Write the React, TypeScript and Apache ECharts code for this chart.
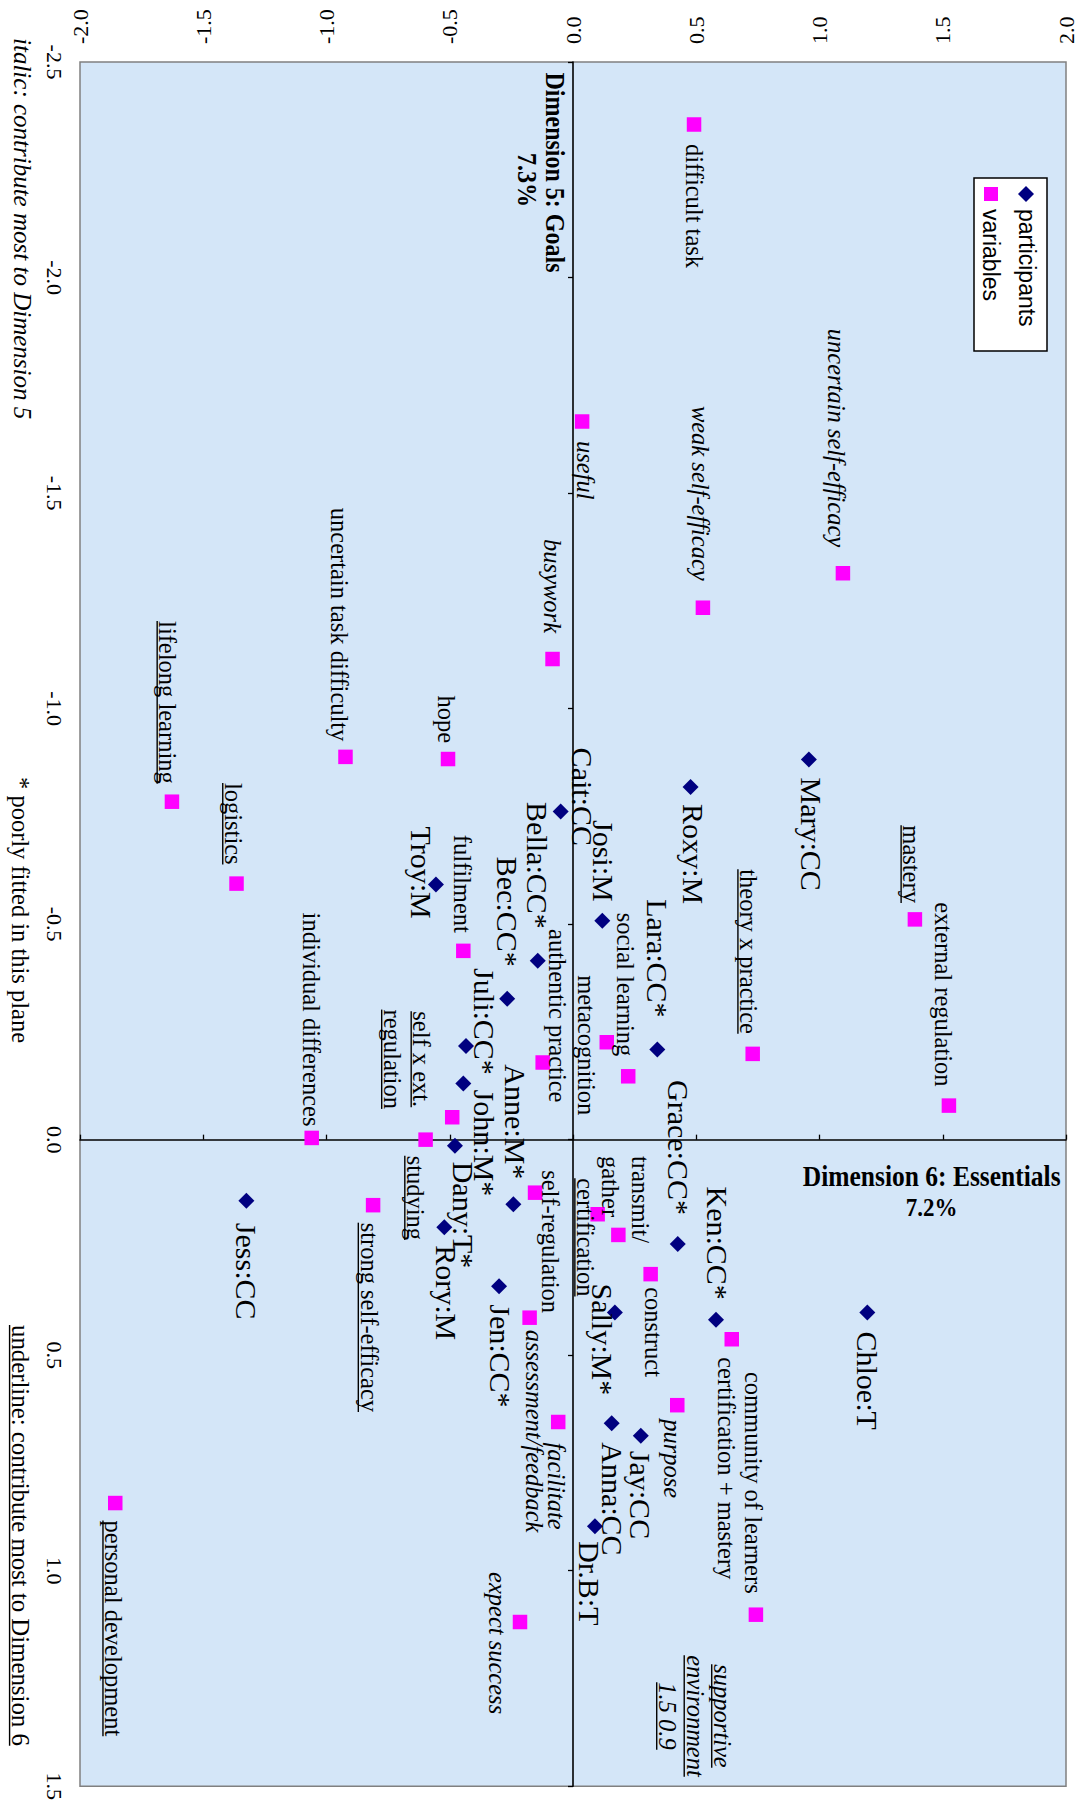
import React, { useEffect, useRef } from 'react';
import * as echarts from 'echarts';

// ---------- data ----------
const dim6Range = [-2, 2];
const dim5Range = [-2.5, 1.5];
const tickStep = 0.5;

const participantNames = ['Mary:CC', 'Roxy:M', 'Cait:CC', 'Josi:M', 'Troy:M', 'Bella:CC*', 'Bec:CC*', 'Juli:CC*', 'John:M*', 'Lara:CC*', 'Dany:T*', 'Anne:M*', 'Rory:M', 'Jen:CC*', 'Jess:CC', 'Grace:CC*', 'Ken:CC*', 'Chloe:T', 'Sally:M*', 'Anna:CC', 'Jay:CC', 'Dr.B:T'];
const participantDim6 = [0.957, 0.477, -0.050, 0.119, -0.556, -0.143, -0.267, -0.434, -0.445, 0.342, -0.479, -0.242, -0.522, -0.300, -1.325, 0.425, 0.580, 1.194, 0.170, 0.157, 0.275, 0.089];
const participantDim5 = [-0.882, -0.818, -0.761, -0.508, -0.592, -0.415, -0.327, -0.217, -0.130, -0.209, 0.014, 0.150, 0.203, 0.340, 0.142, 0.242, 0.418, 0.401, 0.401, 0.658, 0.687, 0.897];

const variableNames = ['difficult task', 'useful', 'uncertain self-efficacy', 'weak self-efficacy', 'busywork', 'uncertain task difficulty', 'hope', 'lifelong learning', 'logistics', 'mastery', 'fulfilment', 'theory x practice', 'social learning', 'metacognition', 'authentic practice', 'external regulation', 'self x ext.\nregulation', 'studying', 'individual differences', 'certification', 'transmit/\ngather', 'self-regulation', 'construct', 'strong self-efficacy', 'certification + mastery', 'community of learners', 'purpose', 'assessment/feedback', 'facilitate', 'expect success', 'personal development'];
const variableDim6 = [0.491, 0.037, 1.095, 0.527, -0.083, -0.923, -0.507, -1.627, -1.365, 1.387, -0.445, 0.729, 0.224, 0.137, -0.123, 1.525, -0.490, -0.598, -1.060, 0.100, 0.184, -0.154, 0.315, -0.811, 0.644, 0.742, 0.423, -0.176, -0.060, -0.215, -1.857];
const variableDim5 = [-2.355, -1.666, -1.314, -1.234, -1.115, -0.888, -0.883, -0.784, -0.594, -0.511, -0.438, -0.199, -0.147, -0.226, -0.179, -0.079, -0.052, 0.000, -0.004, 0.173, 0.221, 0.123, 0.312, 0.152, 0.463, 1.102, 0.616, 0.413, 0.655, 1.119, 0.843];
// i = italic (contributes most to Dimension 5), u = underline (contributes most to Dimension 6)
const variableEmphasis = ['', 'i', 'i', 'i', 'i', '', '', 'u', 'u', 'u', '', 'u', '', '', '', '', 'u', 'u', '', 'u', '', '', '', 'u', '', '', 'i', 'i', 'i', 'i', 'u'];

// ---------- label layout (pixel offsets from marker; s=start, e=end, m=middle) ----------
const participantLabelLayout: [number, number, string][] = [
  [3, 18, 's'], [3, 17, 's'], [22, -64, 's'], [1, -19, 'e'], [-14, -58, 's'], [0, -32, 'e'], [0, -32, 'e'], [18, -78, 's'],
  [21, 6, 's'], [0, -32, 'e'], [9, 16, 's'], [2, -25, 'e'], [2, 18, 's'], [1, 18, 's'], [0, 22, 's'], [1, -29, 'e'],
  [1.5, -20, 'e'], [0, 19, 's'], [-12, -29, 's'], [1, 19, 's'], [0, 15, 's'], [-5, 15, 's'],
];
const variableLabelLayout: [number, number, string][] = [
  [0, 19.5, 's'], [3, 19.5, 's'], [-6, -26, 'e'], [-2.5, -27, 'e'], [0, -26, 'e'], [-6, -15.5, 'e'], [-1.5, -16, 'e'], [-4, -18, 'e'],
  [-3, -19, 'e'], [-3, -16.5, 'e'], [-1, -18, 'e'], [-4, -20, 'e'], [-3, -20, 'e'], [-20, 3, 'm'], [15, 40, 'e'], [-5, -19, 'e'],
  [-45, -58, 'm'], [-10, 16, 's'], [0, -11.5, 'e'], [-12, -36, 's'], [7, -79, 's'], [15, -22.5, 's'], [3, 13, 's'], [-4, 17.5, 's'],
  [-5, 18, 's'], [-2, -21, 'e'], [-5, 14, 's'], [4.5, 12, 's'], [-2, 20.5, 's'], [-23, -50, 's'], [-1.5, 17.5, 's'],
];

// ---------- helpers ----------
const SERIF = '"Liberation Serif", "Times New Roman", serif';
const SANS = '"Liberation Sans", Arial, sans-serif';
let measureCtx: CanvasRenderingContext2D | null = null;
function textWidth(text: string, size: number, italic: boolean, bold: boolean, family: string) {
  if (!measureCtx) measureCtx = document.createElement('canvas').getContext('2d');
  if (!measureCtx) return text.length * size * 0.45;
  measureCtx.font = `${italic ? 'italic' : 'normal'} ${bold ? 'bold' : 'normal'} ${size}px ${family}`;
  return measureCtx.measureText(text).width;
}
const alignOf = (a: string) => (a === 'e' ? 'right' : a === 'm' ? 'center' : 'left');

type Block = { lines: string[]; size: number; italic?: boolean; bold?: boolean; underline?: boolean; align: string; gap?: number; family?: string; scaleY?: number };
function rotatedBlock(x: number, y: number, b: Block): any {
  const n = b.lines.length;
  const gap = b.gap ?? 29;
  const fam = b.family ?? SERIF;
  const children: any[] = [];
  b.lines.forEach((line, k) => {
    const ly = (k - (n - 1) / 2) * gap;
    children.push({
      type: 'text', x: 0, y: ly, scaleY: b.scaleY ?? 1,
      style: {
        text: line, fontSize: b.size, fontFamily: fam,
        fontStyle: b.italic ? 'italic' : 'normal', fontWeight: b.bold ? 'bold' : 'normal',
        fill: '#000', align: b.align, verticalAlign: 'middle',
      },
    });
    if (b.underline) {
      const w = textWidth(line, b.size, !!b.italic, !!b.bold, fam);
      const x0 = b.align === 'left' ? 0 : b.align === 'right' ? -w : -w / 2;
      const uy = ly + b.size * 0.44;
      children.push({ type: 'line', shape: { x1: x0, y1: uy, x2: x0 + w, y2: uy }, style: { stroke: '#000', lineWidth: 1.4 } });
    }
  });
  return { type: 'group', x, y, rotation: -Math.PI / 2, children };
}

const tickFmt = (v: number) => v.toFixed(1);
const tickLabel = { fontFamily: SERIF, fontSize: 22, color: '#000' };

export default function App() {
  const ref = useRef<HTMLDivElement>(null);
  useEffect(() => {
    if (!ref.current) return;
    const chart = echarts.init(ref.current, null, { renderer: 'svg' });
    const participantData = participantDim6.map((v, i) => [v, participantDim5[i]]);
    const variableData = variableDim6.map((v, i) => [v, variableDim5[i]]);

    const option: any = {
      animation: false,
      grid: { left: 80, top: 62, width: 986, height: 1743, show: true, backgroundColor: '#d4e6f8', borderColor: '#808080', borderWidth: 1.5 },
      xAxis: [
        {
          type: 'value', position: 'top', min: dim6Range[0], max: dim6Range[1], interval: tickStep,
          axisLine: { show: false, onZero: false }, axisTick: { show: false }, splitLine: { show: false },
          axisLabel: { ...tickLabel, rotate: -90, margin: 18, formatter: tickFmt, showMinLabel: true, showMaxLabel: true, hideOverlap: false },
        },
        {
          type: 'value', position: 'top', min: dim6Range[0], max: dim6Range[1], interval: tickStep,
          axisLine: { show: true, onZero: true, onZeroAxisIndex: 1, lineStyle: { color: '#000', width: 1.6 } },
          axisTick: { show: true, length: 5, lineStyle: { color: '#000', width: 1.3 } },
          axisLabel: { show: false }, splitLine: { show: false },
        },
      ],
      yAxis: [
        {
          type: 'value', position: 'left', inverse: true, min: dim5Range[0], max: dim5Range[1], interval: tickStep,
          axisLine: { show: false, onZero: false }, axisTick: { show: false }, splitLine: { show: false },
          axisLabel: { ...tickLabel, rotate: -90, margin: 15, formatter: tickFmt, showMinLabel: true, showMaxLabel: true, hideOverlap: false },
        },
        {
          type: 'value', position: 'left', inverse: true, min: dim5Range[0], max: dim5Range[1], interval: tickStep,
          axisLine: { show: true, onZero: true, onZeroAxisIndex: 1, lineStyle: { color: '#000', width: 1.6 } },
          axisTick: { show: true, length: 5, lineStyle: { color: '#000', width: 1.3 } },
          axisLabel: { show: false }, splitLine: { show: false },
        },
      ],
      series: [
        {
          type: 'scatter', name: 'variables', xAxisIndex: 0, yAxisIndex: 0, symbol: 'rect', symbolSize: 14.5,
          itemStyle: { color: '#ff00ff', opacity: 1 }, data: variableData, z: 3, silent: true,
        },
        {
          type: 'scatter', name: 'participants', xAxisIndex: 0, yAxisIndex: 0, symbol: 'diamond', symbolSize: 16,
          itemStyle: { color: '#000080', opacity: 1 }, data: participantData, z: 3, silent: true,
        },
        {
          type: 'custom', name: 'variable labels', xAxisIndex: 0, yAxisIndex: 0, data: variableData, z: 5, silent: true,
          renderItem: (params: any, api: any) => {
            const i = params.dataIndex;
            const p = api.coord([api.value(0), api.value(1)]);
            const [dx, dy, a] = variableLabelLayout[i];
            const emph = variableEmphasis[i];
            return rotatedBlock(p[0] + dx, p[1] + dy, {
              lines: variableNames[i].split('\n'), size: 24.5, align: alignOf(a),
              italic: emph.includes('i'), underline: emph.includes('u'), gap: 29.5,
            });
          },
        },
        {
          type: 'custom', name: 'participant labels', xAxisIndex: 0, yAxisIndex: 0, data: participantData, z: 5, silent: true,
          renderItem: (params: any, api: any) => {
            const i = params.dataIndex;
            const p = api.coord([api.value(0), api.value(1)]);
            const [dx, dy, a] = participantLabelLayout[i];
            return rotatedBlock(p[0] + dx, p[1] + dy, { lines: [participantNames[i]], size: 30, align: alignOf(a) });
          },
        },
      ],
      graphic: [
        rotatedBlock(554.6, 172.5, { lines: ['Dimension 5: Goals'], size: 24, bold: true, align: 'center', scaleY: 1.15 }),
        rotatedBlock(527, 180, { lines: ['7.3%'], size: 24, bold: true, align: 'center', scaleY: 1.15 }),
        {
          type: 'text', x: 931.7, y: 1176.6, scaleY: 1.15,
          style: { text: 'Dimension 6: Essentials', fontSize: 25.5, fontWeight: 'bold', fontFamily: SERIF, fill: '#000', align: 'center', verticalAlign: 'middle' },
        },
        {
          type: 'text', x: 931.5, y: 1207, scaleY: 1.1,
          style: { text: '7.2%', fontSize: 23, fontWeight: 'bold', fontFamily: SERIF, fill: '#000', align: 'center', verticalAlign: 'middle' },
        },
        rotatedBlock(22.4, 38, { lines: ['italic: contribute most to Dimension 5'], size: 25, italic: true, align: 'left' }),
        rotatedBlock(20.6, 777, { lines: ['* poorly fitted in this plane'], size: 24.5, align: 'left' }),
        rotatedBlock(20.5, 1325, { lines: ['underline: contribute most to Dimension 6'], size: 24.8, underline: true, align: 'left' }),
        rotatedBlock(695, 1716, { lines: ['supportive', 'environment', '1.5 0.9'], size: 24.5, italic: true, underline: true, align: 'center', gap: 27.5 }),
        // legend
        { type: 'rect', shape: { x: 974, y: 178, width: 73, height: 173 }, style: { fill: '#ffffff', stroke: '#000', lineWidth: 1.5 } },
        { type: 'polygon', shape: { points: [[1026, 186], [1034, 194], [1026, 202], [1018, 194]] }, style: { fill: '#000080' } },
        { type: 'rect', shape: { x: 984, y: 187, width: 14, height: 14 }, style: { fill: '#ff00ff' } },
        rotatedBlock(1026.8, 209, { lines: ['participants'], size: 23, align: 'left', family: SANS }),
        rotatedBlock(990.7, 209, { lines: ['variables'], size: 23, align: 'left', family: SANS }),
      ],
    };
    chart.setOption(option);
    return () => chart.dispose();
  }, []);
  return <div ref={ref} style={{ position: 'absolute', left: 0, top: 0, width: 1086, height: 1803 }} />;
}
